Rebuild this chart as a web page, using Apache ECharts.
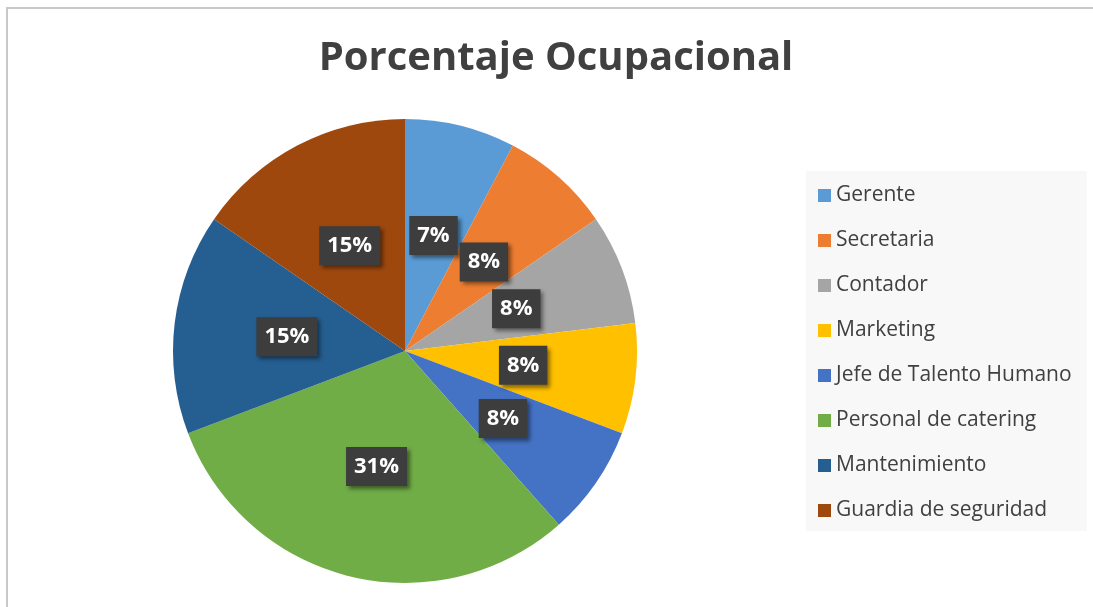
<!DOCTYPE html>
<html>
<head>
<meta charset="utf-8">
<script src="https://cdn.jsdelivr.net/npm/echarts@6/dist/echarts.min.js"></script>
<style>
  html, body { margin: 0; padding: 0; background: #fff; }
  #chart { width: 1093px; height: 607px; }
</style>
</head>
<body>
<div id="chart"></div>
<script>
// Data
const categories = ['Gerente', 'Secretaria', 'Contador', 'Marketing', 'Jefe de Talento Humano', 'Personal de catering', 'Mantenimiento', 'Guardia de seguridad'];
const counts = [1, 1, 1, 1, 1, 4, 2, 2];
const percentLabels = ['7%', '8%', '8%', '8%', '8%', '31%', '15%', '15%'];
const colors = ['#5B9BD5', '#ED7D31', '#A5A5A5', '#FFC000', '#4472C4', '#70AD47', '#255E91', '#9E480E'];

const chart = echarts.init(document.getElementById('chart'));

const option = {
  backgroundColor: '#fff',
  color: colors,
  title: {
    text: 'Porcentaje Ocupacional',
    left: 551,
    top: 34,
    textAlign: 'center',
    textStyle: {
      fontFamily: 'Open Sans',
      fontSize: 40,
      fontWeight: 'bold',
      color: '#404040'
    }
  },
  legend: {
    orient: 'vertical',
    left: 806,
    top: 171,
    backgroundColor: '#f8f8f8',
    padding: [12, 15, 8, 12],
    itemGap: 20,
    itemWidth: 13,
    itemHeight: 13,
    icon: 'rect',
    textStyle: {
      fontFamily: 'Open Sans',
      fontSize: 21,
      lineHeight: 25,
      color: '#404040'
    },
    data: categories
  },
  graphic: [{
    type: 'rect',
    shape: { x: 7, y: 8, width: 1100, height: 700 },
    style: { fill: 'none', stroke: '#c8c8c8', lineWidth: 2 },
    silent: true
  }],
  series: [{
    type: 'pie',
    center: [405, 351],
    radius: 232,
    startAngle: 90,
    clockwise: true,
    animation: false,
    itemStyle: { borderWidth: 0 },
    label: {
      show: true,
      position: 'inside',
      formatter: p => percentLabels[p.dataIndex],
      fontFamily: 'Open Sans',
      fontSize: 22,
      fontWeight: 'bold',
      color: '#fff',
      backgroundColor: '#3d3d3d',
      padding: [9, 8, 8, 8],
      shadowColor: 'rgba(0,0,0,0.45)',
      shadowBlur: 4,
      shadowOffsetX: 3,
      shadowOffsetY: 3
    },
    labelLine: { show: false },
    emphasis: { disabled: true },
    data: categories.map((name, i) => ({ name: name, value: counts[i] }))
  }]
};

chart.setOption(option);
</script>
</body>
</html>
